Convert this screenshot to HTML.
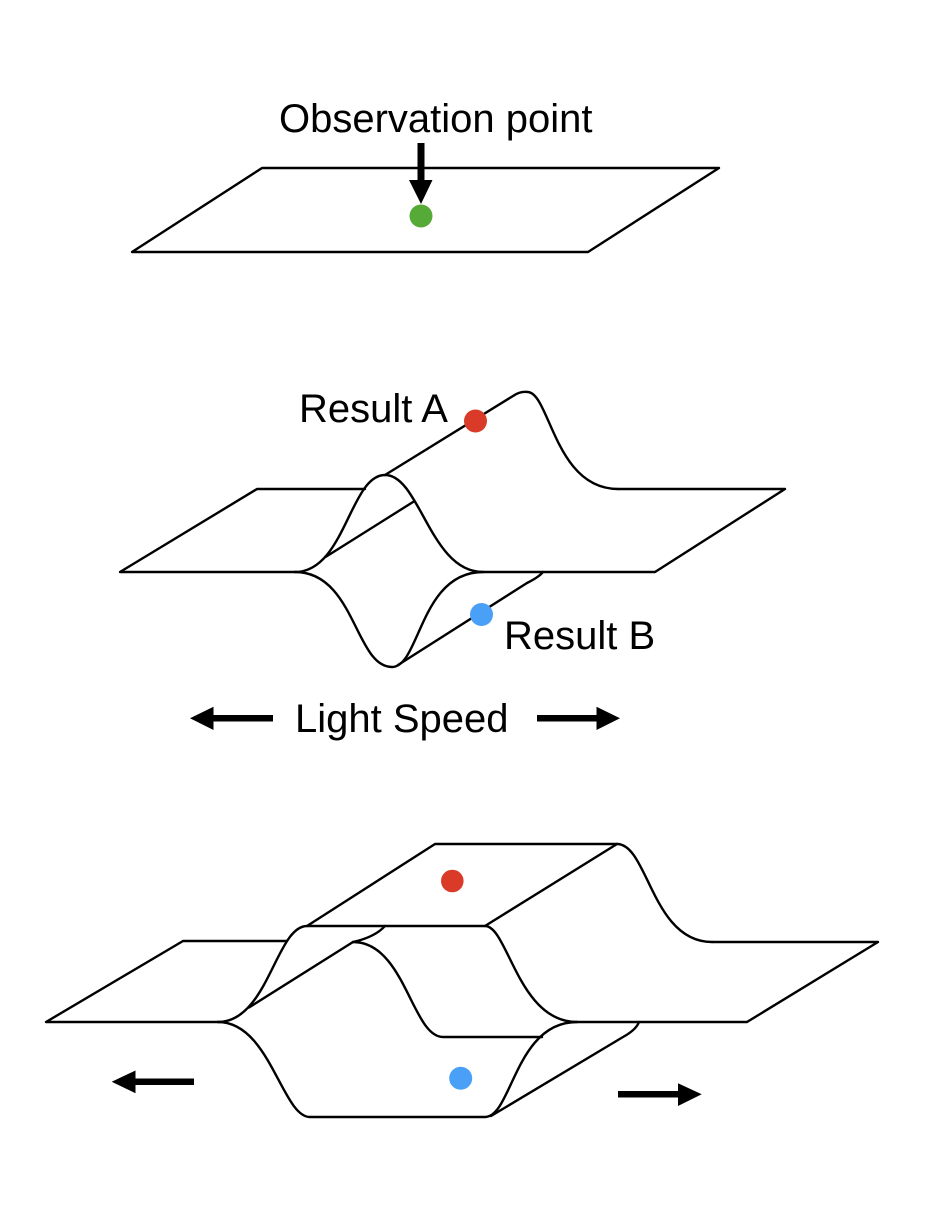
<!DOCTYPE html>
<html>
<head>
<meta charset="utf-8">
<style>
html,body{margin:0;padding:0;background:#fff;}
svg{display:block;}
text{font-family:"Liberation Sans",Arial,sans-serif;font-size:40px;fill:#000;}
</style>
</head>
<body>
<svg width="927" height="1217" viewBox="0 0 927 1217" xmlns="http://www.w3.org/2000/svg">
<rect width="927" height="1217" fill="#fff"/>

<!-- ===== Top figure ===== -->
<text x="279" y="132">Observation point</text>
<g fill="none" stroke="#000" stroke-width="2.4" stroke-linejoin="round">
  <path d="M262,168 L719,168 L588,252 L132,252 Z"/>
</g>
<rect x="417.5" y="143" width="7" height="39" fill="#000"/>
<polygon points="409,180 432.5,180 421,204" fill="#000"/>
<circle cx="421" cy="216" r="11.5" fill="#56aa37"/>

<!-- ===== Middle figure ===== -->
<text x="299" y="422">Result A</text>
<text x="504" y="649">Result B</text>
<g fill="none" stroke="#000" stroke-width="2.4" stroke-linejoin="round" stroke-linecap="round">
  <!-- left plane -->
  <path d="M295,572 L120,572 L257,489 L365,489"/>
  <!-- front upper profile -->
  <path d="M295,572 C345,572 350,475 385,475 C420,475 430,572 483,572"/>
  <!-- front lower profile -->
  <path d="M295,572 C355,572 355,667 392,667 C420,667 420,572 483,572"/>
  <!-- ridge + back profile -->
  <path d="M385,475 L513,396 Q520,391 528,392 C550,394 555,489 618,489"/>
  <!-- right plane -->
  <path d="M618,489 L785,489 L655,572 L483,572"/>
  <!-- junction diagonal -->
  <path d="M325.5,557 L413,502"/>
  <!-- trough line -->
  <path d="M398,665 L527,583 Q539,577 543,572"/>
</g>
<circle cx="475.5" cy="421" r="11.5" fill="#d93b28"/>
<circle cx="481.5" cy="614.5" r="11.5" fill="#4a9ff6"/>

<!-- Light speed -->
<text x="295" y="732">Light Speed</text>
<rect x="212" y="715" width="61" height="6.5" fill="#000"/>
<polygon points="190,718.3 213.5,706.7 213.5,730" fill="#000"/>
<rect x="537" y="715" width="61" height="6.5" fill="#000"/>
<polygon points="620,718.3 596.5,706.7 596.5,730" fill="#000"/>

<!-- ===== Bottom figure ===== -->
<g fill="none" stroke="#000" stroke-width="2.4" stroke-linejoin="round" stroke-linecap="round">
  <!-- left plane -->
  <path d="M218,1022 L46,1022 L183,941 L287,941"/>
  <!-- front upper profile -->
  <path d="M218,1022 C268,1022 276,926 307,926 L485,926 C508,926 518,1022 577,1022"/>
  <!-- front lower profile -->
  <path d="M218,1022 C270,1022 282,1117 310,1117 L485,1117 C512,1117 515,1022 577,1022"/>
  <!-- top surface -->
  <path d="M307,926 L435,844 L617,844"/>
  <path d="M485,926 L617,844"/>
  <!-- back upper right profile -->
  <path d="M617,844 C648,844 652,942 712,942"/>
  <!-- right plane -->
  <path d="M712,942 L878,942 L747,1022 L577,1022"/>
  <!-- inner diagonal -->
  <path d="M249,1007.5 L353,942"/>
  <!-- back upper-left stub -->
  <path d="M353,942 Q375,937 385,926"/>
  <!-- back lower left profile -->
  <path d="M353,942 C405,942 412,1037 443,1037 L542,1037"/>
  <!-- lower box right diagonal -->
  <path d="M491,1116 L623,1037 Q636,1030 639,1022"/>
</g>
<circle cx="452.3" cy="881" r="11.3" fill="#d93b28"/>
<circle cx="460.7" cy="1078.3" r="11.5" fill="#4a9ff6"/>

<!-- bottom arrows -->
<rect x="134" y="1078.5" width="60" height="6.5" fill="#000"/>
<polygon points="111.7,1081.7 135.5,1070.5 135.5,1093.3" fill="#000"/>
<rect x="618" y="1091" width="61" height="6.5" fill="#000"/>
<polygon points="701.7,1094.3 678,1083.3 678,1106" fill="#000"/>
</svg>
</body>
</html>
